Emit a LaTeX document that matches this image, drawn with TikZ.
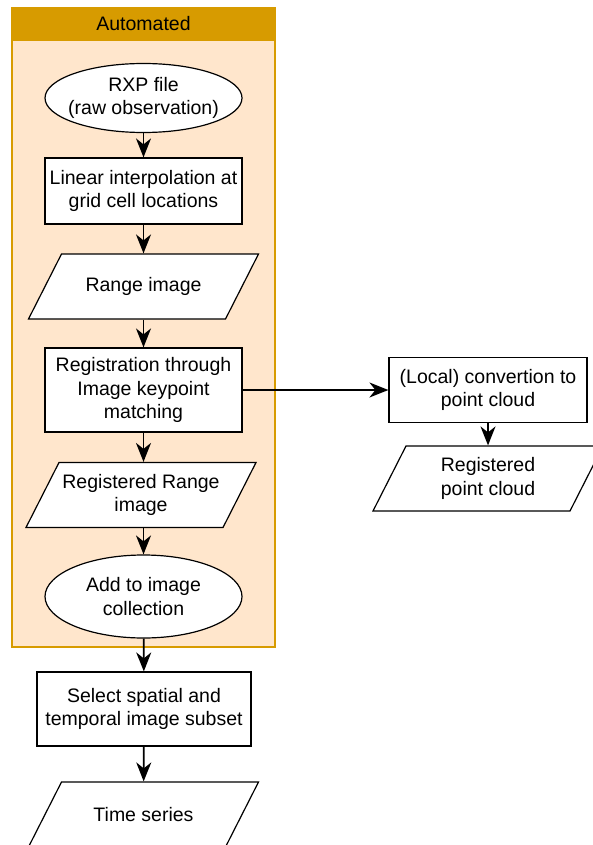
\documentclass[tikz,border=0pt]{standalone}
\usepackage{fontspec}
\setmainfont{Liberation Sans}
\usetikzlibrary{shapes.geometric,arrows.meta}

\definecolor{laneline}{HTML}{D79B00}
\definecolor{lanefill}{HTML}{FFE6CC}

\tikzset{
	box/.style={draw,fill=white,line width=1.2pt,align=center,inner sep=0pt,
		font=\fontsize{19.5}{23.5}\selectfont},
	proc/.style={box,rectangle,minimum width=197,minimum height=66},
	term/.style={box,ellipse,inner xsep=-15pt,minimum width=197},
	data/.style={box,draw=none,fill=none,minimum width=230,minimum height=65},
	flow/.style={line width=1.7pt,-{Stealth[length=19pt,width=15pt,inset=6pt]}}
}

% parallelogram drawn first, its text node on top
\newcommand{\datanode}[4]{
	\draw[line width=1.2pt,fill=white] (#2-115,#3+32.5) -- (#2-82,#3-32.5) -- (#2+115,#3-32.5) -- (#2+82,#3+32.5) -- cycle;
	\node[data] (#1) at (#2,#3) {#4};
}

\begin{document}
\begin{tikzpicture}[x=1pt,y=-1pt]
		\useasboundingbox (0,0) rectangle (592,845);

		% automated part
		\node[draw=laneline,fill=lanefill,line width=1.2pt,minimum width=263,minimum height=639] (lane) at (143.5,327.5) {};
		\node[draw=laneline,fill=laneline,line width=1.2pt,minimum width=263,minimum height=32,
			font=\fontsize{19.5}{23.5}\selectfont] (lanehead) at (143.5,24) {Automated};

		\node[term,minimum height=69] (rxp) at (143.5,98) {RXP file\\(raw observation)};
		\node[proc] (interp) at (143.5,191) {Linear interpolation at\\grid cell locations};
		\datanode{range}{143.5}{286.5}{Range image}
		\node[proc,minimum height=84] (reg) at (143.5,390) {Registration through\\Image keypoint\\matching};
		\datanode{regrange}{141}{495}{Registered Range\\image}
		\node[term,minimum height=83] (addcol) at (143.5,596.5) {Add to image\\collection};

		% after the automated part
		\node[proc,minimum width=214,minimum height=74] (subset) at (144,709) {Select spatial and\\temporal image subset};
		\datanode{series}{143.5}{814.5}{Time series}

		% side branch
		\node[proc,minimum width=198,minimum height=65] (conv) at (488,390) {(Local) convertion to\\point cloud};
		\datanode{cloud}{488}{478.5}{Registered\\point cloud}

		\draw[flow] (rxp) -- (interp);
		\draw[flow] (interp) -- (range);
		\draw[flow] (range) -- (reg);
		\draw[flow] (reg.south) -- (regrange.north -| reg.south);
		\draw[flow] (regrange.south -| addcol.north) -- (addcol);
		\draw[flow] (addcol) -- (subset);
		\draw[flow] (subset) -- (series);
		\draw[flow] (reg.east) -- (conv.west);
		\draw[flow] (conv) -- (cloud);
	\end{tikzpicture}
\end{document}
